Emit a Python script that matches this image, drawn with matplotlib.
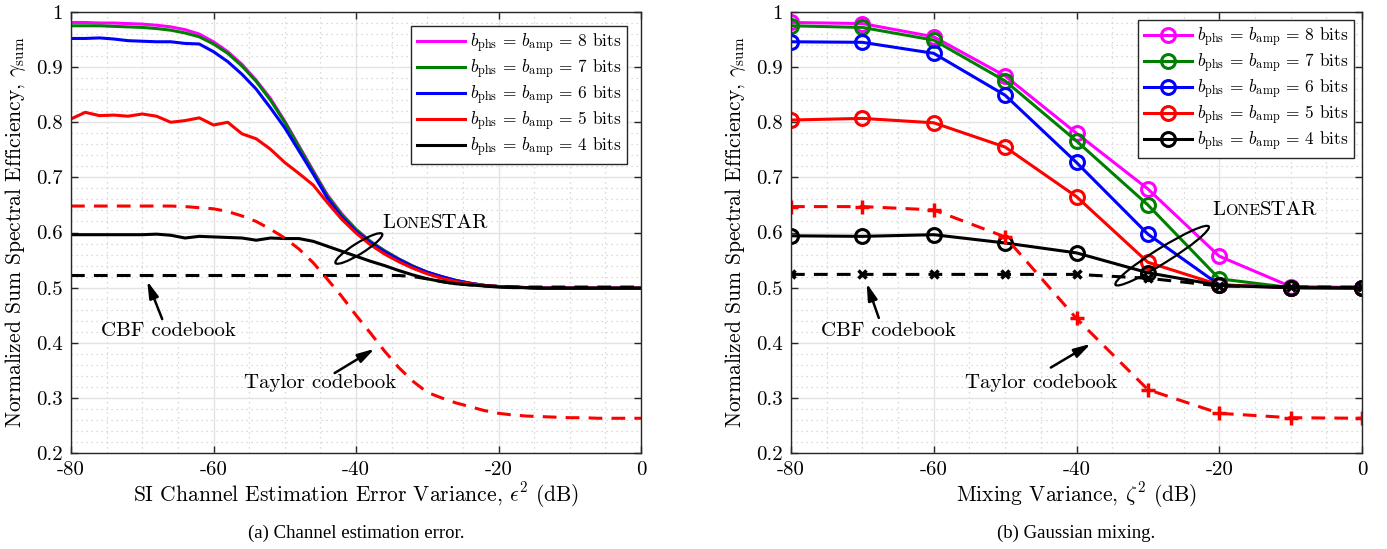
import matplotlib
matplotlib.use('Agg')
import matplotlib.pyplot as plt
import numpy as np
from matplotlib.patches import Ellipse
from matplotlib.transforms import ScaledTranslation
from matplotlib.offsetbox import TextArea, HPacker, AnnotationBbox
from matplotlib.ticker import MultipleLocator

plt.rcParams['mathtext.fontset'] = 'cm'
plt.rcParams['axes.unicode_minus'] = False
plt.rcParams['font.family'] = 'cmr10'

# (a) SI channel estimation error sweep, 2 dB grid
err_db = np.arange(-80, 1, 2)
err_8bit = [0.981, 0.981, 0.980, 0.980, 0.979, 0.978, 0.976, 0.973, 0.968, 0.960, 0.946,
            0.928, 0.905, 0.876, 0.843, 0.802, 0.757, 0.712, 0.668, 0.634, 0.606,
            0.584, 0.567, 0.552, 0.539, 0.528, 0.520, 0.513, 0.508, 0.504, 0.502,
            0.501, 0.500, 0.499, 0.499, 0.499, 0.499, 0.499, 0.499, 0.499, 0.499]
err_7bit = [0.975, 0.975, 0.975, 0.974, 0.973, 0.972, 0.970, 0.967, 0.962, 0.955, 0.942,
            0.925, 0.902, 0.874, 0.840, 0.800, 0.755, 0.710, 0.666, 0.632, 0.605,
            0.584, 0.567, 0.552, 0.539, 0.528, 0.520, 0.513, 0.508, 0.504, 0.502,
            0.501, 0.500, 0.499, 0.499, 0.499, 0.499, 0.499, 0.499, 0.499, 0.499]
err_6bit = [0.952, 0.952, 0.953, 0.951, 0.948, 0.947, 0.946, 0.946, 0.943, 0.942, 0.928,
            0.910, 0.887, 0.860, 0.826, 0.790, 0.748, 0.706, 0.662, 0.628, 0.602,
            0.582, 0.565, 0.551, 0.538, 0.528, 0.520, 0.513, 0.508, 0.504, 0.502,
            0.501, 0.500, 0.499, 0.499, 0.499, 0.499, 0.499, 0.499, 0.499, 0.499]
err_5bit = [0.806, 0.818, 0.812, 0.813, 0.811, 0.815, 0.811, 0.800, 0.803, 0.808, 0.795,
            0.800, 0.779, 0.770, 0.751, 0.727, 0.707, 0.686, 0.654, 0.624, 0.599,
            0.578, 0.561, 0.547, 0.535, 0.525, 0.517, 0.511, 0.507, 0.504, 0.502,
            0.501, 0.500, 0.499, 0.499, 0.499, 0.499, 0.499, 0.499, 0.499, 0.499]
err_4bit = [0.596, 0.596, 0.596, 0.596, 0.596, 0.596, 0.597, 0.595, 0.590, 0.593, 0.592,
            0.591, 0.590, 0.586, 0.590, 0.589, 0.589, 0.584, 0.575, 0.566, 0.557,
            0.548, 0.540, 0.531, 0.523, 0.516, 0.511, 0.507, 0.505, 0.503, 0.501,
            0.500, 0.500, 0.499, 0.499, 0.499, 0.499, 0.499, 0.499, 0.499, 0.499]
err_cbf = [0.522] * 24 + [0.520, 0.516, 0.511, 0.507, 0.505, 0.503, 0.502,
                          0.501, 0.501, 0.501, 0.501, 0.501, 0.501, 0.501, 0.501, 0.501, 0.501]
err_taylor = [0.648] * 8 + [0.647, 0.645, 0.643, 0.638, 0.630, 0.620, 0.606, 0.590, 0.570,
                            0.545, 0.515, 0.484, 0.450, 0.418, 0.385, 0.355, 0.330, 0.310,
                            0.300, 0.291, 0.284, 0.277, 0.272, 0.269, 0.267, 0.266, 0.265,
                            0.264, 0.264, 0.263, 0.263, 0.263, 0.263]

# (b) Gaussian mixing sweep, 10 dB grid
mix_db = [-80, -70, -60, -50, -40, -30, -20, -10, 0]
mix_8bit = [0.981, 0.979, 0.955, 0.884, 0.780, 0.679, 0.557, 0.502, 0.500]
mix_7bit = [0.975, 0.972, 0.949, 0.875, 0.766, 0.650, 0.516, 0.500, 0.500]
mix_6bit = [0.946, 0.945, 0.925, 0.849, 0.727, 0.597, 0.505, 0.500, 0.500]
mix_5bit = [0.804, 0.807, 0.799, 0.755, 0.665, 0.546, 0.505, 0.500, 0.499]
mix_4bit = [0.594, 0.593, 0.596, 0.581, 0.563, 0.527, 0.504, 0.500, 0.499]
mix_cbf = [0.524, 0.524, 0.524, 0.524, 0.524, 0.517, 0.503, 0.501, 0.501]
mix_taylor = [0.647, 0.647, 0.641, 0.592, 0.444, 0.315, 0.272, 0.264, 0.263]

bit_labels = ['8', '7', '6', '5', '4']
bit_colors = ['#ff00ff', '#008000', '#0000ff', '#ff0000', '#000000']
x_ticks = [-80, -60, -40, -20, 0]
y_ticks = [0.2, 0.3, 0.4, 0.5, 0.6, 0.7, 0.8, 0.9, 1.0]
y_ticklabels = ['0.2', '0.3', '0.4', '0.5', '0.6', '0.7', '0.8', '0.9', '1']

fig = plt.figure(figsize=(13.87, 5.49), dpi=100)
ax1 = fig.add_axes([71 / 1387, 1 - 453 / 549, 570 / 1387, 441 / 549])
ax2 = fig.add_axes([791 / 1387, 1 - 453 / 549, 571 / 1387, 441 / 549])

DASH = (0, (4.5, 3))


def bits_label(b):
    return r'$b_{\rm phs}\,=\,b_{\rm amp}\,=\,%s$ bits' % b


def style_axes(ax, xlabel):
    ax.set_xlim(-80, 0)
    ax.set_ylim(0.2, 1.0)
    ax.set_xticks(x_ticks)
    ax.set_xticklabels([str(t) for t in x_ticks])
    ax.set_yticks(y_ticks)
    ax.set_yticklabels(y_ticklabels)
    ax.xaxis.set_minor_locator(MultipleLocator(5))
    ax.yaxis.set_minor_locator(MultipleLocator(0.02))
    ax.grid(which='major', color='#e3e3e3', lw=1.0, ls='-')
    ax.grid(which='minor', color='#cfcfcf', lw=0.9, ls=(0, (1, 3)))
    ax.set_axisbelow(True)
    ax.tick_params(which='major', direction='in', length=5, width=1, top=True, right=True,
                   labelsize=15, color='#262626', pad=6)
    ax.tick_params(which='minor', length=0, top=True, right=True)
    for s in ax.spines.values():
        s.set_color('#262626')
        s.set_linewidth(1.0)
    ax.set_xlabel(xlabel, fontsize=15.5, labelpad=1)
    ax.set_ylabel(r'Normalized Sum Spectral Efficiency, $\gamma_{\rm sum}$', fontsize=15.5, labelpad=6)


def lonestar(ax, x, y):
    parts = [TextArea('L', textprops=dict(fontsize=15, family='cmr10')),
             TextArea('ONE', textprops=dict(fontsize=11.5, family='cmr10')),
             TextArea('STAR', textprops=dict(fontsize=15, family='cmr10'))]
    box = HPacker(children=parts, align='baseline', pad=0, sep=0)
    ab = AnnotationBbox(box, (x, y), xycoords='data', box_alignment=(0, 0.5), frameon=False)
    ax.add_artist(ab)


def ring(ax, x, y, w_px, h_px, angle):
    tr = fig.dpi_scale_trans + ScaledTranslation(x, y, ax.transData)
    ax.add_patch(Ellipse((0, 0), w_px / 100, h_px / 100, angle=angle, fill=False,
                         lw=1.6, color='k', transform=tr, zorder=5))


def arrow_note(ax, text, text_xy, tail, tip):
    ax.text(text_xy[0], text_xy[1], text, fontsize=15, ha='center', va='center', zorder=6)
    ax.annotate('', xy=tip, xytext=tail,
                arrowprops=dict(arrowstyle='-|>,head_length=1.0,head_width=0.28', lw=1.8,
                                color='k', shrinkA=0, shrinkB=0), zorder=6)


def add_legend(ax, pad):
    leg = ax.legend(loc='upper right', fancybox=False, edgecolor='#262626', framealpha=1,
                    fontsize=12.5, handlelength=2.8, labelspacing=0.12, borderaxespad=pad,
                    handletextpad=0.3, borderpad=0.3)
    leg.get_frame().set_linewidth(1.0)


# Channel estimation error panel
err_series = [err_8bit, err_7bit, err_6bit, err_5bit, err_4bit]
for vals, c, b in zip(err_series, bit_colors, bit_labels):
    ax1.plot(err_db, vals, color=c, lw=2.2, label=bits_label(b))
ax1.plot(err_db, err_cbf, color='k', lw=2.2, ls=DASH)
ax1.plot(err_db, err_taylor, color='#ff0000', lw=2.2, ls=DASH)
style_axes(ax1, r'SI Channel Estimation Error Variance, $\epsilon^2$ (dB)')
add_legend(ax1, 0.8)
ring(ax1, -39.6, 0.571, 55, 11, 32)
lonestar(ax1, -36.3, 0.617)
arrow_note(ax1, 'CBF codebook', (-66.3, 0.422), (-67.2, 0.443), (-69.3, 0.512))
arrow_note(ax1, 'Taylor codebook', (-45.1, 0.327), (-43.0, 0.345), (-37.4, 0.389))

# Gaussian mixing panel
mix_series = [mix_8bit, mix_7bit, mix_6bit, mix_5bit, mix_4bit]
for vals, c, b in zip(mix_series, bit_colors, bit_labels):
    ax2.plot(mix_db, vals, color=c, lw=2.2, marker='o', ms=10, mfc='none', mew=2.2,
             label=bits_label(b))
ax2.plot(mix_db, mix_cbf, color='k', lw=2.2, ls=DASH, marker='x', ms=6, mew=2.5)
ax2.plot(mix_db, mix_taylor, color='#ff0000', lw=2.2, ls=DASH, marker='+', ms=10, mew=2.5)
style_axes(ax2, r'Mixing Variance, $\zeta^2$ (dB)')
add_legend(ax2, 0.45)
ring(ax2, -28.0, 0.558, 110, 15, 32)
lonestar(ax2, -21.0, 0.640)
arrow_note(ax2, 'CBF codebook', (-66.3, 0.422), (-67.7, 0.445), (-69.4, 0.508))
arrow_note(ax2, 'Taylor codebook', (-45.0, 0.327), (-43.6, 0.355), (-38.0, 0.398))

# Sub-figure captions
fig.text(356 / 1387, 1 - 533 / 549, '(a) Channel estimation error.', family='Liberation Serif',
         fontsize=13.5, ha='center', va='center')
fig.text(1076 / 1387, 1 - 533 / 549, '(b) Gaussian mixing.', family='Liberation Serif',
         fontsize=13.5, ha='center', va='center')

fig.savefig('out.png', dpi=100)
